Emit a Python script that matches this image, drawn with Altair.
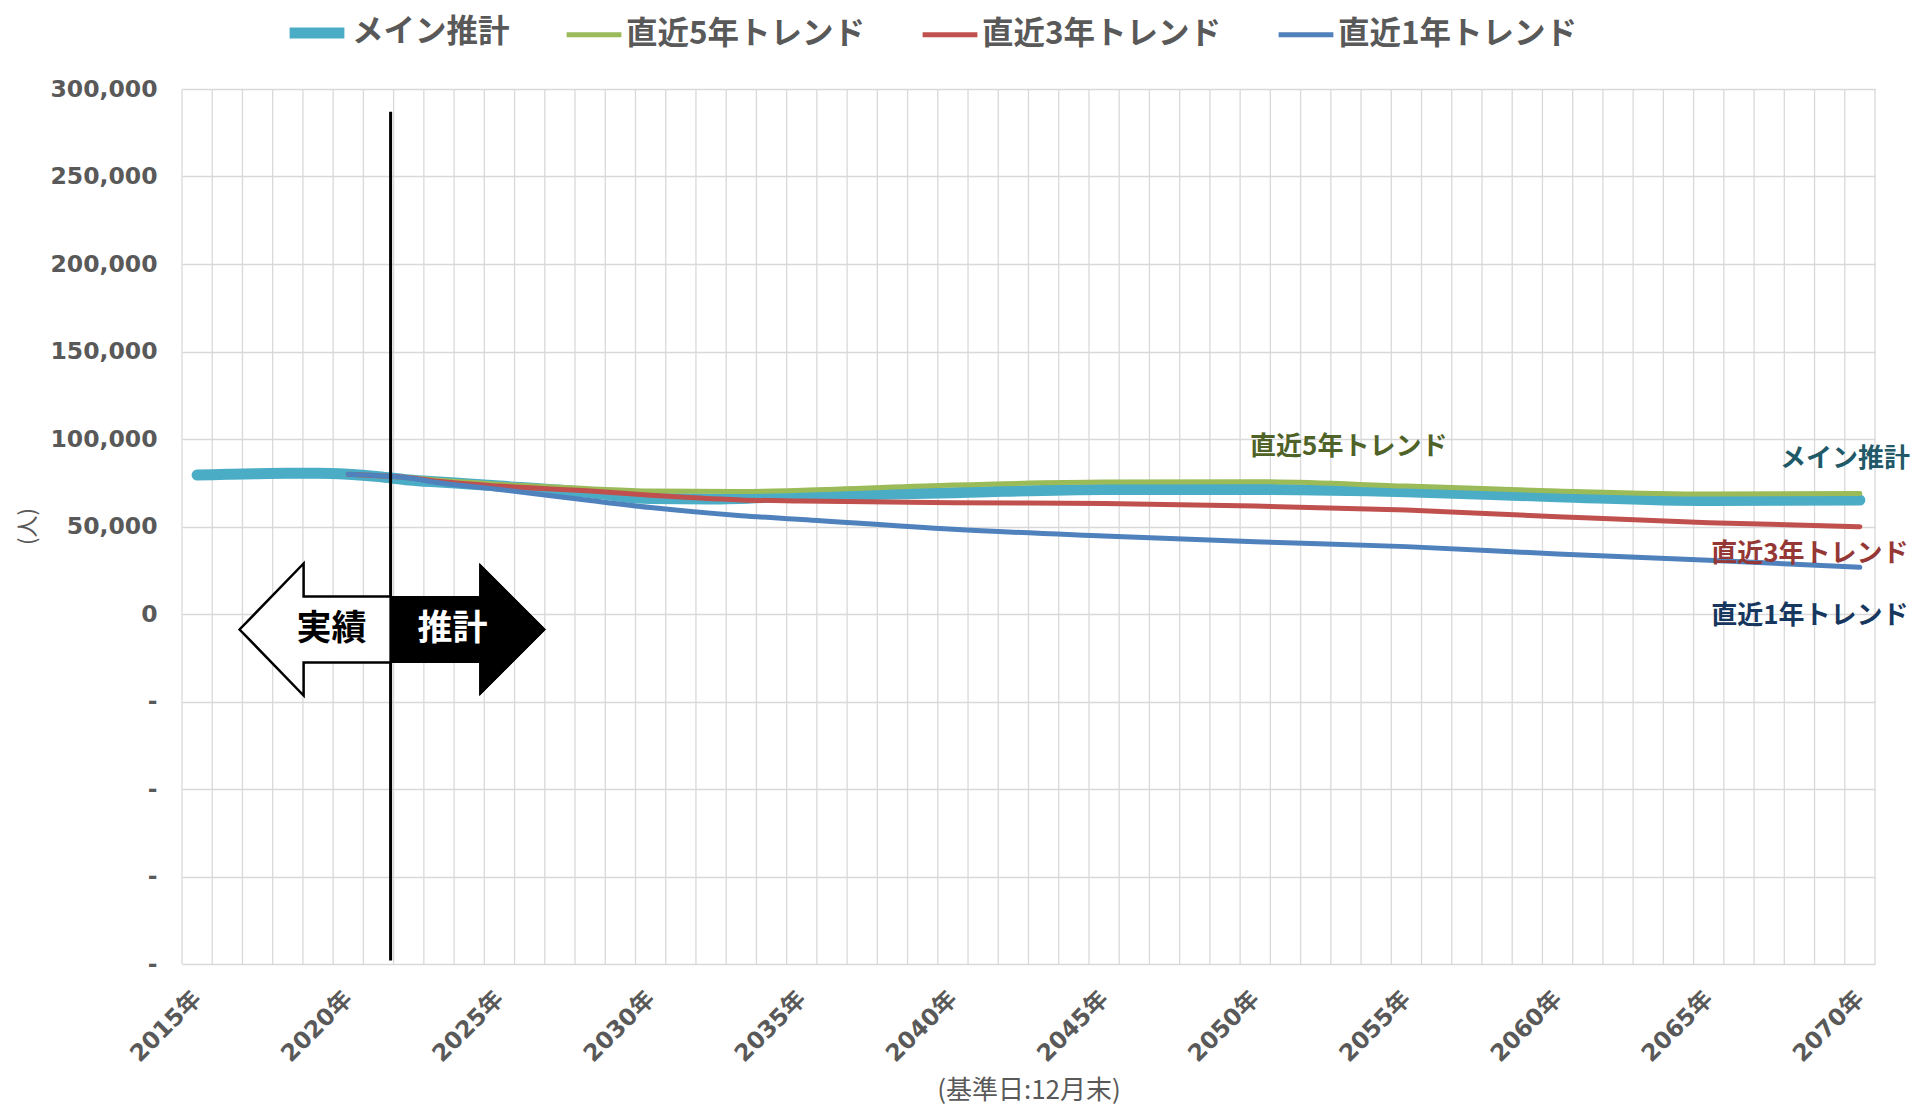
import altair as alt
import pandas as pd

# ---------------- data ----------------
series_names = ["メイン推計", "直近5年トレンド", "直近3年トレンド", "直近1年トレンド"]
series_colors = ["#4BACC6", "#9BBB59", "#C0504D", "#4F81BD"]
series_widths = [11, 5, 5, 5]

main_years = [2015, 2016, 2017, 2018, 2019, 2020, 2021, 2022, 2023, 2024, 2025,
              2028, 2030, 2032, 2035, 2040, 2045, 2050, 2055, 2060, 2065, 2070]
main_values = [79400, 79800, 80200, 80400, 80400, 79800, 78500, 76600, 75400, 74300, 73100,
               69300, 66000, 65700, 67400, 69300, 71200, 71200, 69900, 67000, 64800, 65100]

trend_years = [2020, 2021, 2022, 2023, 2025, 2028, 2030, 2033, 2035,
               2040, 2045, 2050, 2055, 2060, 2065, 2070]
trend5_values = [79800, 79000, 77900, 76500, 74100, 71600, 70300, 70000, 70700,
                 73700, 75400, 75600, 73100, 70300, 68600, 68900]
trend3_values = [79800, 79000, 77900, 75800, 73100, 70300, 67800, 65200, 64600,
                 63600, 63200, 61700, 59400, 55600, 52200, 49900]
trend1_values = [79800, 79000, 77700, 75000, 71200, 64800, 60800, 56200, 54000,
                 48400, 44600, 41300, 38500, 34300, 30700, 26700]

year_ticks = list(range(2015, 2071, 5))
value_ticks = list(range(-200000, 300001, 50000))
category_edges = [y + 0.5 for y in range(2014, 2071)]

rows = []
for yr, v in zip(main_years, main_values):
    rows.append({"year": yr, "value": v, "series": series_names[0]})
for name, vals in zip(series_names[1:], [trend5_values, trend3_values, trend1_values]):
    for yr, v in zip(trend_years, vals):
        rows.append({"year": yr, "value": v, "series": name})
df = pd.DataFrame(rows)

# ---------------- styling ----------------
GRAY = "#595959"
GRID = "#D9D9D9"
NUM_FONT = "DejaVu Sans, Noto Sans CJK JP"
JP_FONT = "Noto Sans CJK JP"

x_scale = alt.Scale(domain=[2014.5, 2070.5], nice=False, zero=False)
y_scale = alt.Scale(domain=[-200000, 300000], nice=False, zero=False)

x_axis = alt.Axis(
    values=year_ticks, labelExpr="datum.value + '年'", grid=False, ticks=False,
    domain=False, labelAngle=-45, labelAlign="right", labelBaseline="middle",
    labelPadding=31, labelFont=NUM_FONT, labelFontSize=23.5, labelFontWeight="bold",
    labelColor=GRAY, labelOverlap=False, labelBound=False, labelFlush=False,
    title="(基準日:12月末)", titleY=126, titleBaseline="middle",
    titleFont=JP_FONT, titleFontSize=26, titleFontWeight="normal", titleColor=GRAY,
)

one_row = alt.Data(values=[{}])

vgrid = alt.Chart(pd.DataFrame({"edge": category_edges})).mark_rule(
    color=GRID, strokeWidth=1.3
).encode(x=alt.X("edge:Q", scale=x_scale, axis=x_axis))

legend = alt.Legend(
    orient="none", direction="horizontal", legendX=102, legendY=-89,
    title=None, symbolType="stroke", symbolSize=3000,
    labelFont=JP_FONT, labelFontSize=31.5, labelFontWeight="bold",
    labelColor=GRAY, labelOffset=2, columnPadding=46, labelLimit=600, padding=0,
)

lines = alt.Chart(df).mark_line(
    interpolate="monotone", strokeCap="round", strokeJoin="round"
).encode(
    x=alt.X("year:Q", scale=x_scale, axis=x_axis),
    y=alt.Y("value:Q", scale=y_scale, axis=alt.Axis(
        values=value_ticks,
        labelExpr="datum.value < 0 ? '-' : format(datum.value, ',')",
        grid=True, gridColor=GRID, gridWidth=1.3, ticks=False, domain=False,
        labelPadding=25, labelFont="DejaVu Sans", labelFontSize=23.5,
        labelFontWeight="bold", labelColor=GRAY,
        title="(人)", titleX=-155, titleY=437, titleAngle=-90, titleBaseline="middle",
        titleAlign="center", titleFont=JP_FONT, titleFontSize=22,
        titleFontWeight="normal", titleColor=GRAY,
    )),
    color=alt.Color("series:N", scale=alt.Scale(domain=series_names, range=series_colors),
                    legend=legend),
    strokeWidth=alt.StrokeWidth("series:N",
                                scale=alt.Scale(type="ordinal", domain=series_names, range=series_widths),
                                legend=legend),
)

split_x = 2021.4
split_y = -8857

divider = alt.Chart(one_row).mark_rule(color="black", strokeWidth=3).encode(
    x=alt.datum(split_x), y=alt.datum(287000), y2=alt.datum(-198000)
)

left_arrow = alt.Chart(one_row).mark_point(
    shape="M0,-33L-87,-33L-87,-66L-151,0L-87,66L-87,33L0,33Z",
    size=4, filled=True, fill="white", stroke="black", strokeWidth=2.5, opacity=1,
).encode(x=alt.datum(split_x), y=alt.datum(split_y))

right_arrow = alt.Chart(one_row).mark_point(
    shape="M0,-33L89,-33L89,-66L155,0L89,66L89,33L0,33Z",
    size=4, filled=True, fill="black", stroke="black", strokeWidth=1, opacity=1,
).encode(x=alt.datum(split_x), y=alt.datum(split_y))

text_actual = alt.Chart(one_row).mark_text(
    text="実績", font=JP_FONT, fontSize=35, fontWeight="bold", color="black",
    align="center", baseline="middle", dx=-59,
).encode(x=alt.datum(split_x), y=alt.datum(split_y))

text_proj = alt.Chart(one_row).mark_text(
    text="推計", font=JP_FONT, fontSize=35, fontWeight="bold", color="white",
    align="center", baseline="middle", dx=62,
).encode(x=alt.datum(split_x), y=alt.datum(split_y))


def series_label(text, color, xval, yval):
    return alt.Chart(one_row).mark_text(
        text=text, font=JP_FONT, fontSize=26, fontWeight="bold", color=color,
        align="left", baseline="middle",
    ).encode(x=alt.datum(xval), y=alt.datum(yval))


lab5 = series_label("直近5年トレンド", "#4F6228", 2049.83, 95600)
labm = series_label("メイン推計", "#215968", 2067.36, 88600)
lab3 = series_label("直近3年トレンド", "#953735", 2065.08, 34200)
lab1 = series_label("直近1年トレンド", "#17375E", 2065.08, -1000)

chart = alt.layer(
    vgrid, lines, divider, left_arrow, right_arrow, text_actual, text_proj,
    lab5, labm, lab3, lab1,
).properties(
    width=1693, height=875,
    autosize=alt.AutoSizeParams(type="none"),
    padding={"left": 174, "top": 81, "right": 45, "bottom": 142},
).configure_view(stroke=None)

chart.save("out.html", embed_options={"renderer": "svg", "actions": False})
